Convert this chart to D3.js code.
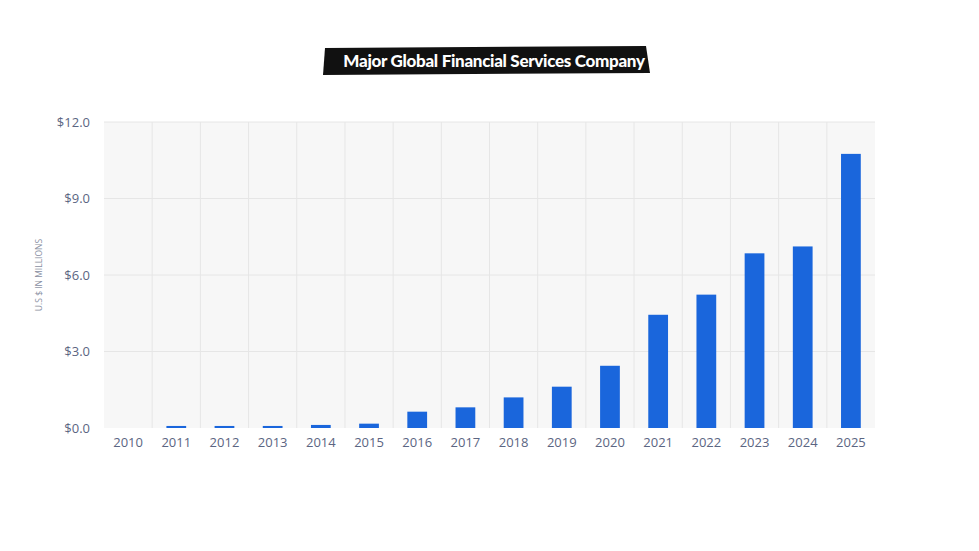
<!DOCTYPE html>
<html>
<head>
<meta charset="utf-8">
<script src="https://cdn.jsdelivr.net/npm/d3@7"></script>
<style>
  body { margin: 0; background: #fff; }
  svg { display: block; font-family: "Open Sans", "Noto Sans", sans-serif; }
</style>
</head>
<body>
<svg id="chart" width="979" height="551"></svg>
<script>
const years = ["2010", "2011", "2012", "2013", "2014", "2015", "2016", "2017",
  "2018", "2019", "2020", "2021", "2022", "2023", "2024", "2025"];
const values = [0, 0.08, 0.08, 0.08, 0.12, 0.17, 0.64, 0.81,
  1.2, 1.62, 2.44, 4.44, 5.23, 6.85, 7.12, 10.75];
const yTicks = [0, 3, 6, 9, 12];

const svg = d3.select("#chart");
const margin = { top: 122, left: 104, right: 104, bottom: 123 };
const width = 979 - margin.left - margin.right;
const height = 551 - margin.top - margin.bottom;
const axisFont = "'Open Sans', 'Noto Sans', sans-serif";

const x = d3.scaleBand().domain(years).range([0, width]).paddingInner(0.59).paddingOuter(0.295);
const xGrid = d3.scaleBand().domain(years).range([0, width]);
const y = d3.scaleLinear().domain([0, 12]).range([height, 0]);

const g = svg.append("g").attr("transform", `translate(${margin.left},${margin.top})`);

// plot background
g.append("rect")
  .attr("width", width)
  .attr("height", height)
  .attr("fill", "#f7f7f7");

// horizontal grid
g.selectAll(".hgrid")
  .data(yTicks.slice(1))
  .join("line")
  .attr("x1", 0).attr("x2", width)
  .attr("y1", d => y(d)).attr("y2", d => y(d))
  .attr("stroke", "#e6e6e6");

// vertical grid at band edges
g.selectAll(".vgrid")
  .data(years.slice(1))
  .join("line")
  .attr("x1", d => xGrid(d)).attr("x2", d => xGrid(d))
  .attr("y1", 0).attr("y2", height)
  .attr("stroke", "#e6e6e6");

// bars
g.selectAll(".bar")
  .data(years)
  .join("rect")
  .attr("x", d => x(d))
  .attr("width", x.bandwidth())
  .attr("y", (d, i) => y(values[i]))
  .attr("height", (d, i) => height - y(values[i]))
  .attr("fill", "#1a66dc");

// y axis
const yAxis = g.append("g")
  .attr("transform", "translate(-11,0)")
  .call(d3.axisLeft(y).tickValues(yTicks).tickSize(0).tickFormat(d => "$" + d3.format(".1f")(d)));
yAxis.attr("font-family", axisFont).attr("font-size", 13);
yAxis.select(".domain").remove();
yAxis.selectAll("text").attr("fill", "#5b6582");

// x axis
const xAxis = g.append("g")
  .attr("transform", `translate(0,${height + 7})`)
  .call(d3.axisBottom(x).tickSize(0));
xAxis.attr("font-family", axisFont).attr("font-size", 13);
xAxis.select(".domain").remove();
xAxis.selectAll("text").attr("fill", "#5b6582");

// y axis title
svg.append("text")
  .attr("transform", "translate(42,275) rotate(-90)")
  .attr("text-anchor", "middle")
  .attr("font-size", 8.5)
  .attr("fill", "#8a90a2")
  .text("U.S $ IN MILLIONS");

// title box
const title = svg.append("g");
title.append("path")
  .attr("d", "M325,48 L646,46 L650,73 L323,75 Z")
  .attr("fill", "#111");
title.append("text")
  .attr("x", 494)
  .attr("y", 67)
  .attr("text-anchor", "middle")
  .attr("font-family", "Lato, sans-serif")
  .attr("font-weight", 900)
  .attr("font-size", 17)
  .attr("letter-spacing", -0.3)
  .attr("fill", "#fff")
  .text("Major Global Financial Services Company");
</script>
</body>
</html>
